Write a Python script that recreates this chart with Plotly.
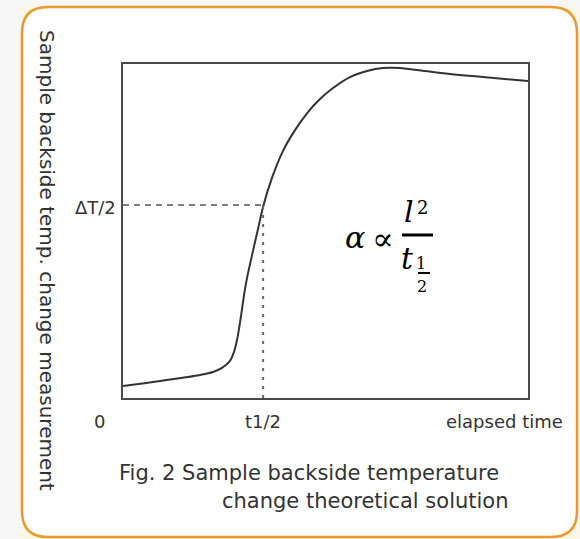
import plotly.graph_objects as go

# ---- data (elapsed time units vs. normalised backside temperature) ----
time_vals = [0.000, 0.914, 1.901, 2.222, 2.444, 2.642, 2.741, 2.815, 2.864, 2.914, 2.963,
             3.012, 3.062, 3.111, 3.185, 3.284, 3.358, 3.457, 3.679, 3.951, 4.247, 4.568,
             4.864, 5.185, 5.605, 6.025, 6.420, 6.840, 7.259, 8.074, 8.889, 10.0]
temp_vals = [0.036, 0.051, 0.069, 0.078, 0.090, 0.111, 0.138, 0.174, 0.207, 0.246, 0.287,
             0.326, 0.359, 0.387, 0.427, 0.480, 0.519, 0.572, 0.659, 0.740, 0.802, 0.856,
             0.895, 0.928, 0.961, 0.979, 0.988, 0.988, 0.982, 0.970, 0.961, 0.949]
t_half = 3.46
half_level = 0.578
x_range = [0, 10]
y_range = [0, 1]

x_tick_labels = ["0", "t1/2", "elapsed time"]
x_tick_pos = [-0.57, t_half, 9.41]
y_tick_label = "ΔT/2"
y_title = "Sample backside temp. change measurement"
caption_lines = ["Fig. 2 Sample backside temperature", "change theoretical solution"]

W, H = 580, 539
L, R, T, B = 123, 528, 64, 398   # plot-area pixel box


def fx(px):
    return (px - L) / (R - L)


def fy(py):
    return (B - py) / (B - T)


def dx(v):
    return (v - x_range[0]) / (x_range[1] - x_range[0])


def dy(v):
    return (v - y_range[0]) / (y_range[1] - y_range[0])


fig = go.Figure()
fig.add_trace(go.Scatter(x=time_vals, y=temp_vals, mode="lines",
                         line=dict(color="#333333", width=2, shape="spline", smoothing=1.0),
                         hoverinfo="skip", showlegend=False))
fig.add_trace(go.Scatter(x=[x_range[0], t_half], y=[half_level, half_level], mode="lines",
                         line=dict(color="#555555", width=1.5, dash="6px,5px"),
                         hoverinfo="skip", showlegend=False))
fig.add_trace(go.Scatter(x=[t_half, t_half], y=[y_range[0], half_level], mode="lines",
                         line=dict(color="#666666", width=2, dash="3px,6px"),
                         hoverinfo="skip", showlegend=False))

# rounded orange frame
x0, x1, y0, y1, r = 22, 577, 7, 537, 26


def P(px, py):
    return f"{fx(px):.5f},{fy(py):.5f}"


path = (f"M{P(x0 + r, y0)} L{P(x1 - r, y0)} Q{P(x1, y0)} {P(x1, y0 + r)} "
        f"L{P(x1, y1 - r)} Q{P(x1, y1)} {P(x1 - r, y1)} L{P(x0 + r, y1)} "
        f"Q{P(x0, y1)} {P(x0, y1 - r)} L{P(x0, y0 + r)} Q{P(x0, y0)} {P(x0 + r, y0)} Z")

shapes = [
    dict(type="rect", xref="paper", yref="paper", x0=fx(22), x1=fx(578), y0=fy(539), y1=fy(6),
         fillcolor="#fbf6e2", line=dict(width=0), layer="below"),
    dict(type="path", xref="paper", yref="paper", path=path, fillcolor="white",
         line=dict(color="#e89a2c", width=2.5), layer="below"),
    # fraction bars of formula
    dict(type="line", xref="paper", yref="paper", x0=fx(402), x1=fx(433), y0=fy(235), y1=fy(235),
         line=dict(color="black", width=3)),
    dict(type="line", xref="paper", yref="paper", x0=fx(418), x1=fx(430), y0=fy(273), y1=fy(273),
         line=dict(color="black", width=2)),
]

tick_font = dict(family="DejaVu Sans", size=18, color="#333333")
ann = []
for lbl, xp in zip(x_tick_labels, x_tick_pos):
    ann.append(dict(x=dx(xp), y=fy(421), xref="paper", yref="paper", text=lbl, showarrow=False,
                    xanchor="center", yanchor="middle", font=tick_font))
ann.append(dict(x=fx(118), y=dy(half_level) - 0.009, xref="paper", yref="paper", text=y_tick_label,
                showarrow=False, xanchor="right", yanchor="middle", font=tick_font))
ann.append(dict(x=fx(47), y=fy(260), xref="paper", yref="paper", text=y_title, showarrow=False,
                textangle=90, xanchor="center", yanchor="middle",
                font=dict(family="DejaVu Sans", size=20, color="#333333")))
cap_font = dict(family="DejaVu Sans", size=21, color="#333333")
ann.append(dict(x=fx(309), y=fy(473), xref="paper", yref="paper", text=caption_lines[0],
                showarrow=False, xanchor="center", yanchor="middle", font=cap_font))
ann.append(dict(x=fx(365), y=fy(501), xref="paper", yref="paper", text=caption_lines[1],
                showarrow=False, xanchor="center", yanchor="middle", font=cap_font))

# formula  alpha ∝ l^2 / t_(1/2)
mf = "DejaVu Serif"
ann += [
    dict(x=fx(355), y=fy(237), xref="paper", yref="paper", text="<i>α</i>", showarrow=False,
         font=dict(family=mf, size=30, color="black")),
    dict(x=fx(383), y=fy(239), xref="paper", yref="paper", text="∝", showarrow=False,
         font=dict(family=mf, size=32, color="black")),
    dict(x=fx(416), y=fy(211), xref="paper", yref="paper", text="<i>l</i>", showarrow=False,
         font=dict(family=mf, size=30, color="black")),
    dict(x=fx(430), y=fy(208), xref="paper", yref="paper", text="2", showarrow=False,
         font=dict(family=mf, size=18, color="black")),
    dict(x=fx(416), y=fy(258), xref="paper", yref="paper", text="<i>t</i>", showarrow=False,
         font=dict(family=mf, size=30, color="black")),
    dict(x=fx(428), y=fy(263), xref="paper", yref="paper", text="1", showarrow=False,
         font=dict(family=mf, size=16, color="black")),
    dict(x=fx(429), y=fy(286), xref="paper", yref="paper", text="2", showarrow=False,
         font=dict(family=mf, size=16, color="black")),
]

axis_common = dict(showgrid=False, zeroline=False, showticklabels=False, ticks="",
                   showline=True, mirror=True, linecolor="#4a4a4a", linewidth=2, fixedrange=True)
fig.update_layout(
    width=W, height=H,
    margin=dict(l=L, r=W - R, t=T, b=H - B, pad=0),
    paper_bgcolor="#f7f7f7", plot_bgcolor="rgba(0,0,0,0)",
    xaxis=dict(range=x_range, **axis_common),
    yaxis=dict(range=y_range, **axis_common),
    shapes=shapes, annotations=ann, showlegend=False,
)
fig.write_html("out.html", config={"displayModeBar": False},
               post_script="document.body.style.margin='0';document.body.style.padding='0';")
